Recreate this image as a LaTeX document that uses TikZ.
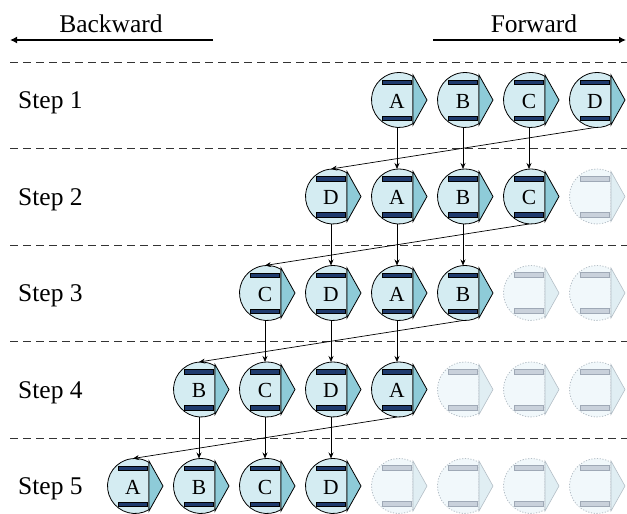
\documentclass[tikz,border=0pt]{standalone}
\usepackage{fontspec}
\setmainfont{Liberation Serif}
\newfontfamily\timesface{Liberation Serif}
\usetikzlibrary{arrows.meta}

\definecolor{cDisc}{HTML}{D4ECF2}
\definecolor{cTip}{HTML}{8ECBD8}
\definecolor{cBar}{HTML}{1F3B6E}
\definecolor{cGhostDisc}{HTML}{F1F8FB}
\definecolor{cGhostTip}{HTML}{E0EEF3}
\definecolor{cGhostLine}{HTML}{B4BEC6}
\definecolor{cGhostBar}{HTML}{C9D1DB}
\definecolor{cGhostBarLine}{HTML}{9FA9B6}
\definecolor{cRule}{HTML}{333333}

\tikzset{
  realdisc/.style={fill=cDisc, draw=black, line width=0.8pt},
  realtip/.style={fill=cTip, draw=black, line width=0.8pt},
  realbar/.style={fill=cBar, draw=black, line width=0.4pt},
  ghostdisc/.style={fill=cGhostDisc, draw=cGhostLine, line width=0.8pt, dash pattern=on 1.2pt off 1.6pt},
  ghosttip/.style={fill=cGhostTip, draw=cGhostLine, line width=0.6pt},
  ghostbar/.style={fill=cGhostBar, draw=cGhostBarLine, line width=0.5pt},
  letter/.style={inner sep=0pt, font=\timesface\fontsize{21.5}{22}\selectfont},
  steplabel/.style={inner sep=0pt, anchor=base west, font=\timesface\fontsize{25.5}{26}\selectfont},
  headlabel/.style={inner sep=0pt, anchor=base, font=\timesface\fontsize{25.5}{26}\selectfont},
  link/.style={draw=black, line width=0.7pt, -{Stealth[length=6pt, width=5pt]}},
  heavy/.style={draw=black, line width=2.2pt, -{Latex[length=7pt, width=7pt]}},
  rowrule/.style={draw=cRule, line width=0.8pt, dash pattern=on 8pt off 5pt},
}

% one slot: clipped disc, arrow-shaped tip and two bars; #3 = real or ghost
\newcommand\slotshape[3]{%
  \path[#3disc] (#1,#2) ++(59.4:27.5) arc[start angle=59.4, end angle=300.6, radius=27.5] -- cycle;
  \path[#3tip] ({#1+14},{#2-25}) -- ({#1+28},{#2}) -- ({#1+14},{#2+25}) -- cycle;
  \path[#3bar] ({#1-16.5},{#2-20.3}) rectangle ({#1+12.5},{#2-15.7});
  \path[#3bar] ({#1-16.5},{#2+15.7}) rectangle ({#1+12.5},{#2+20.3});
}

\begin{document}
\begin{tikzpicture}[x=1pt, y=-1pt]
  \useasboundingbox (0,0) rectangle (627,514);

  % direction heading
  \node[headlabel] (bwtext) at (111,32) {Backward};
  \node[headlabel] (fwtext) at (534,32) {Forward};
  \coordinate (bwfrom) at (213,40);
  \coordinate (bwto) at (10,40);
  \coordinate (fwfrom) at (433,40);
  \coordinate (fwto) at (626,40);
  \draw[heavy] (bwfrom) -- (bwto);
  \draw[heavy] (fwfrom) -- (fwto);

  % separators between the steps
  \foreach \yy [count=\i] in {62,148,245,341,438} {
    \coordinate (rl\i) at (10,\yy);
    \coordinate (rr\i) at (627,\yy);
    \draw[rowrule] (rl\i) -- (rr\i);
  }

  % step labels
  \foreach \r in {1,...,5} {
    \pgfmathsetmacro\cy{100+96.5*(\r-1)}
    \node[steplabel] (step\r) at (18,{\cy+8.5}) {Step \r};
  }

  % empty slots
  \foreach \r/\c in {2/8, 3/7,3/8, 4/6,4/7,4/8, 5/5,5/6,5/7,5/8} {
    \pgfmathsetmacro\cx{135+66*(\c-1)}
    \pgfmathsetmacro\cy{100+96.5*(\r-1)}
    \slotshape{\cx}{\cy}{ghost}
  }

  % filled slots
  \foreach \r/\c/\l in {1/5/A,1/6/B,1/7/C,1/8/D,
                        2/4/D,2/5/A,2/6/B,2/7/C,
                        3/3/C,3/4/D,3/5/A,3/6/B,
                        4/2/B,4/3/C,4/4/D,4/5/A,
                        5/1/A,5/2/B,5/3/C,5/4/D} {
    \pgfmathsetmacro\cx{135+66*(\c-1)}
    \pgfmathsetmacro\cy{100+96.5*(\r-1)}
    \slotshape{\cx}{\cy}{real}
    \node[letter] (s\r-\c) at ({\cx-2},{\cy+1}) {\l};
    \coordinate (s\r-\c-t) at ({\cx-2},{\cy-27.5});
    \coordinate (s\r-\c-b) at ({\cx-2},{\cy+27.5});
  }

  % straight hand-over to the next step
  \foreach \r/\c in {1/5,1/6,1/7, 2/4,2/5,2/6, 3/3,3/4,3/5, 4/2,4/3,4/4} {
    \pgfmathtruncatemacro\n{\r+1}
    \draw[link] (s\r-\c-b) -- (s\n-\c-t);
  }

  % wrap-around from the last slot to the front of the next step
  \draw[link] (s1-8-b) -- (s2-4-t);
  \draw[link] (s2-7-b) -- (s3-3-t);
  \draw[link] (s3-6-b) -- (s4-2-t);
  \draw[link] (s4-5-b) -- (s5-1-t);
\end{tikzpicture}
\end{document}
